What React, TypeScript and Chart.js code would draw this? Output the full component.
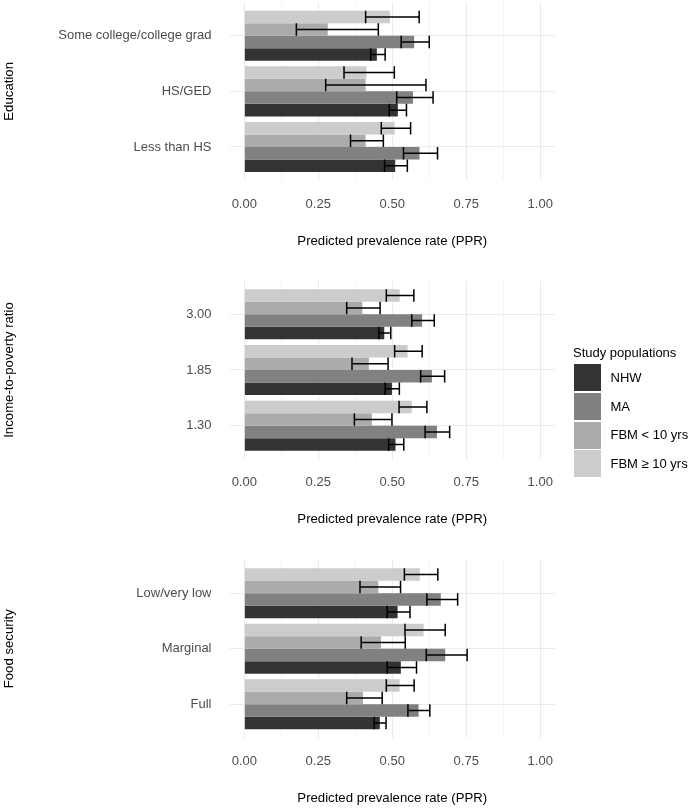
import React, { useEffect, useRef } from 'react';
import { Chart, registerables } from 'chart.js';

Chart.register(...registerables);

const FONT = '"Liberation Sans", Arial, sans-serif';

// Series (legend order)
const seriesNames = ['NHW', 'MA', 'FBM < 10 yrs', 'FBM ≥ 10 yrs'];
const seriesColors = ['#333333', '#818181', '#ABABAB', '#CCCCCC'];
const legendTitle = 'Study populations';
const xTitle = 'Predicted prevalence rate (PPR)';
const xTickValues = [0, 0.125, 0.25, 0.375, 0.5, 0.625, 0.75, 0.875, 1];

// ---- Education (categories listed top to bottom) ----
const eduCategories = ['Some college/college grad', 'HS/GED', 'Less than HS'];
const eduNHW = [0.448, 0.519, 0.51];
const eduNHWLow = [0.427, 0.49, 0.474];
const eduNHWHigh = [0.476, 0.548, 0.551];
const eduMA = [0.574, 0.57, 0.592];
const eduMALow = [0.53, 0.515, 0.538];
const eduMAHigh = [0.625, 0.638, 0.653];
const eduFBMlt10 = [0.282, 0.41, 0.41];
const eduFBMlt10Low = [0.176, 0.275, 0.359];
const eduFBMlt10High = [0.453, 0.614, 0.47];
const eduFBMge10 = [0.492, 0.413, 0.508];
const eduFBMge10Low = [0.41, 0.337, 0.463];
const eduFBMge10High = [0.591, 0.507, 0.562];

// ---- Income-to-poverty ratio ----
const incCategories = ['3.00', '1.85', '1.30'];
const incNHW = [0.473, 0.499, 0.511];
const incNHWLow = [0.455, 0.476, 0.488];
const incNHWHigh = [0.495, 0.524, 0.539];
const incMA = [0.601, 0.634, 0.651];
const incMALow = [0.566, 0.596, 0.611];
const incMAHigh = [0.642, 0.677, 0.694];
const incFBMlt10 = [0.399, 0.421, 0.431];
const incFBMlt10Low = [0.346, 0.364, 0.372];
const incFBMlt10High = [0.459, 0.486, 0.499];
const incFBMge10 = [0.525, 0.552, 0.566];
const incFBMge10Low = [0.48, 0.508, 0.523];
const incFBMge10High = [0.573, 0.601, 0.617];

// ---- Food security ----
const foodCategories = ['Low/very low', 'Marginal', 'Full'];
const foodNHW = [0.518, 0.529, 0.458];
const foodNHWLow = [0.483, 0.483, 0.439];
const foodNHWHigh = [0.56, 0.582, 0.479];
const foodMA = [0.664, 0.679, 0.589];
const foodMALow = [0.617, 0.615, 0.553];
const foodMAHigh = [0.721, 0.753, 0.627];
const foodFBMlt10 = [0.453, 0.462, 0.401];
const foodFBMlt10Low = [0.391, 0.395, 0.346];
const foodFBMlt10High = [0.528, 0.544, 0.466];
const foodFBMge10 = [0.593, 0.606, 0.525];
const foodFBMge10Low = [0.541, 0.543, 0.48];
const foodFBMge10High = [0.654, 0.679, 0.574];

const panels = [
  {
    yTitle: 'Education',
    categories: eduCategories,
    values: [eduNHW, eduMA, eduFBMlt10, eduFBMge10],
    lows: [eduNHWLow, eduMALow, eduFBMlt10Low, eduFBMge10Low],
    highs: [eduNHWHigh, eduMAHigh, eduFBMlt10High, eduFBMge10High],
    layout: { canvasTop: 0, height: 270, relTop: 2.3, relBottom: 180.4, relTitle: 241.6 },
  },
  {
    yTitle: 'Income-to-poverty ratio',
    categories: incCategories,
    values: [incNHW, incMA, incFBMlt10, incFBMge10],
    lows: [incNHWLow, incMALow, incFBMlt10Low, incFBMge10Low],
    highs: [incNHWHigh, incMAHigh, incFBMlt10High, incFBMge10High],
    layout: { canvasTop: 270, height: 270, relTop: 10.9, relBottom: 189.1, relTitle: 249.8 },
  },
  {
    yTitle: 'Food security',
    categories: foodCategories,
    values: [foodNHW, foodMA, foodFBMlt10, foodFBMge10],
    lows: [foodNHWLow, foodMALow, foodFBMlt10Low, foodFBMge10Low],
    highs: [foodNHWHigh, foodMAHigh, foodFBMlt10High, foodFBMge10High],
    layout: { canvasTop: 540, height: 269, relTop: 19.9, relBottom: 197.6, relTitle: 258.2 },
  },
];

const isMajor = (v: number) => Math.abs(v * 4 - Math.round(v * 4)) < 1e-9;

const errorBarPlugin = {
  id: 'errorBars',
  afterDatasetsDraw(chart: any) {
    const ctx = chart.ctx;
    const xs = chart.scales.x;
    chart.data.datasets.forEach((ds: any, di: number) => {
      const meta = chart.getDatasetMeta(di);
      meta.data.forEach((bar: any, i: number) => {
        const x1 = xs.getPixelForValue(ds.errLow[i]);
        const x2 = xs.getPixelForValue(ds.errHigh[i]);
        const y = bar.y;
        const h = bar.height;
        ctx.save();
        ctx.strokeStyle = '#000000';
        ctx.lineWidth = 1.5;
        ctx.beginPath();
        ctx.moveTo(x1, y);
        ctx.lineTo(x2, y);
        ctx.moveTo(x1, y - h / 2);
        ctx.lineTo(x1, y + h / 2);
        ctx.moveTo(x2, y - h / 2);
        ctx.lineTo(x2, y + h / 2);
        ctx.stroke();
        ctx.restore();
      });
    });
  },
};

const zeroPad = (s: any) => {
  s.paddingTop = 0;
  s.paddingBottom = 0;
  s.paddingLeft = 0;
  s.paddingRight = 0;
};

function makeConfig(p: any): any {
  const n = p.categories.length;
  const L = p.layout;
  const titleSize = 13.2;
  const titleLH = titleSize * 1.2;
  const xBottom = L.relTitle + titleLH / 2;
  const order = [3, 2, 1, 0]; // top bar first
  return {
    type: 'bar',
    data: {
      datasets: order.map((si) => ({
        label: seriesNames[si],
        data: p.categories.map((_: string, i: number) => ({ y: n - i, x: p.values[si][i] })),
        errLow: p.lows[si],
        errHigh: p.highs[si],
        backgroundColor: seriesColors[si],
        borderWidth: 0,
        categoryPercentage: 0.9,
        barPercentage: 1,
      })),
    },
    options: {
      indexAxis: 'y',
      responsive: false,
      animation: false,
      devicePixelRatio: 1,
      layout: {
        autoPadding: false,
        padding: { top: L.relTop, left: 0, right: 134, bottom: L.height - xBottom },
      },
      plugins: { legend: { display: false }, tooltip: { enabled: false } },
      scales: {
        x: {
          type: 'linear',
          position: 'bottom',
          bounds: 'data',
          offset: false,
          min: -0.05,
          max: 1.05,
          afterBuildTicks: (s: any) => {
            s.ticks = xTickValues.map((v) => ({ value: v }));
          },
          afterFit: (s: any) => {
            s.height = xBottom - L.relBottom;
            zeroPad(s);
          },
          grid: {
            offset: false,
            drawTicks: false,
            color: '#EBEBEB',
            lineWidth: (c: any) => (c.tick && isMajor(c.tick.value) ? 1.1 : 0.55),
          },
          border: { display: false },
          ticks: {
            autoSkip: false,
            maxRotation: 0,
            padding: 15.8,
            color: '#4D4D4D',
            font: { family: FONT, size: 13 },
            callback: (v: number) => (isMajor(v) ? v.toFixed(2) : ''),
          },
          title: {
            display: true,
            text: xTitle,
            color: '#000000',
            font: { family: FONT, size: titleSize },
            padding: 0,
          },
        },
        y: {
          type: 'linear',
          position: 'left',
          bounds: 'data',
          offset: false,
          min: 0.4,
          max: n + 0.6,
          afterBuildTicks: (s: any) => {
            s.ticks = p.categories.map((_: string, i: number) => ({ value: i + 1 }));
          },
          afterFit: (s: any) => {
            s.width = 229.5;
            zeroPad(s);
          },
          grid: { offset: false, drawTicks: false, color: '#EBEBEB', lineWidth: 1.1 },
          border: { display: false },
          ticks: {
            autoSkip: false,
            padding: 18,
            color: '#4D4D4D',
            font: { family: FONT, size: 13 },
            callback: (v: number) => p.categories[n - Math.round(v)],
          },
          title: {
            display: true,
            text: p.yTitle,
            color: '#000000',
            font: { family: FONT, size: titleSize },
            padding: { top: 1.2, bottom: 0 },
          },
        },
      },
    },
    plugins: [errorBarPlugin],
  };
}

function Panel({ p }: { p: any }) {
  const ref = useRef<HTMLCanvasElement>(null);
  useEffect(() => {
    if (!ref.current) return;
    const chart = new Chart(ref.current, makeConfig(p));
    return () => chart.destroy();
  }, [p]);
  return (
    <canvas
      ref={ref}
      width={689}
      height={p.layout.height}
      style={{ position: 'absolute', left: 0, top: p.layout.canvasTop, width: 689, height: p.layout.height, display: 'block' }}
    />
  );
}

function Legend() {
  const top0 = 364;
  const step = 28.8;
  return (
    <div style={{ position: 'absolute', left: 0, top: 0, fontFamily: FONT }}>
      <div style={{ position: 'absolute', left: 573, top: 345, fontSize: 13, lineHeight: '15.6px', color: '#000', whiteSpace: 'nowrap' }}>
        {legendTitle}
      </div>
      {seriesNames.map((name, i) => (
        <React.Fragment key={name}>
          <div
            style={{
              position: 'absolute',
              left: 574,
              top: top0 + i * step,
              width: 27,
              height: 27,
              background: seriesColors[i],
            }}
          />
          <div
            style={{
              position: 'absolute',
              left: 610.5,
              top: top0 + i * step + 13.5 - 7.8,
              fontSize: 13,
              lineHeight: '15.6px',
              color: '#000',
              whiteSpace: 'nowrap',
            }}
          >
            {name}
          </div>
        </React.Fragment>
      ))}
    </div>
  );
}

export default function App() {
  return (
    <div style={{ position: 'absolute', left: 0, top: 0, width: 689, height: 809, background: '#ffffff', overflow: 'hidden' }}>
      {panels.map((p) => (
        <Panel key={p.yTitle} p={p} />
      ))}
      <Legend />
    </div>
  );
}
